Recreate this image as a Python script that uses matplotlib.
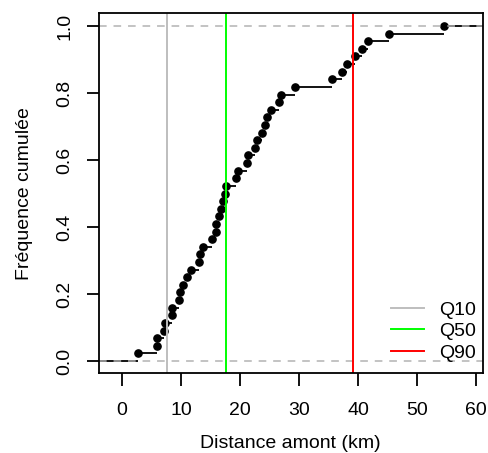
import numpy as np
import matplotlib.pyplot as plt

plt.rcParams['font.family'] = ['Liberation Sans', 'DejaVu Sans']

# distances (km), one per point of the ecdf
distances = [2.65, 6.0, 6.0, 7.1, 7.2, 8.5, 8.5, 9.7, 9.85, 10.35,
             11.0, 11.75, 13.05, 13.15, 13.8, 15.2, 15.9, 16.0, 16.5, 16.7,
             17.05, 17.45, 17.7, 19.25, 19.7, 21.1, 21.3, 22.5, 22.8, 23.8,
             24.3, 24.5, 25.2, 26.6, 26.9, 29.25, 35.5, 37.2, 38.1, 39.4,
             40.7, 41.6, 45.2, 54.6]
quant_names = ['Q10', 'Q50', 'Q90']
quant_values = [7.68, 17.68, 39.2]
quant_colors = ['#bebebe', '#00ff00', '#ff0000']

x = np.sort(np.array(distances))
n = len(x)
y = np.arange(1, n + 1) / n
xlim = (-3.95, 61.1)

fig = plt.figure(figsize=(4.89, 4.53), dpi=100)
ax = fig.add_axes([0.2018, 0.176, 0.7853, 0.7946])

# steps (no verticals), like plot.ecdf in R
xs = np.concatenate([[xlim[0]], x, [xlim[1]]])
ys = np.concatenate([[0], y])
for i in range(len(ys)):
    ax.plot([xs[i], xs[i + 1]], [ys[i], ys[i]], color='black', lw=1.3, solid_capstyle='butt')
ax.plot(x, y, 'o', color='black', ms=5.2)

for v in [0, 1]:
    ax.axhline(v, color='#b3b3b3', lw=1.1, ls=(0, (5, 4.5)))

for name, val, col in zip(quant_names, quant_values, quant_colors):
    ax.axvline(val, color=col, lw=1.4, label=name)

ax.set_xlim(*xlim)
ax.set_ylim(-0.0367, 1.038)
ax.set_xticks(np.arange(0, 61, 10))
ax.set_yticks(np.arange(0, 1.01, 0.2))
ax.set_yticklabels([f'{t:.1f}' for t in np.arange(0, 1.01, 0.2)], rotation=90, va='center')
ax.tick_params(labelsize=14, length=9, width=1.3, direction='out')
ax.tick_params(axis='x', pad=12)
ax.tick_params(axis='y', pad=9)
for s in ax.spines.values():
    s.set_linewidth(1.3)

ax.set_xlabel('Distance amont (km)', fontsize=14, labelpad=11)
ax.set_ylabel('Fréquence cumulée', fontsize=14, labelpad=17)

ax.legend(loc='lower right', bbox_to_anchor=(1.013, 0.0), frameon=False, fontsize=14,
          handlelength=1.7, handletextpad=0.8, labelspacing=0.2, borderaxespad=0.2)

fig.savefig('out.png', dpi=100)
